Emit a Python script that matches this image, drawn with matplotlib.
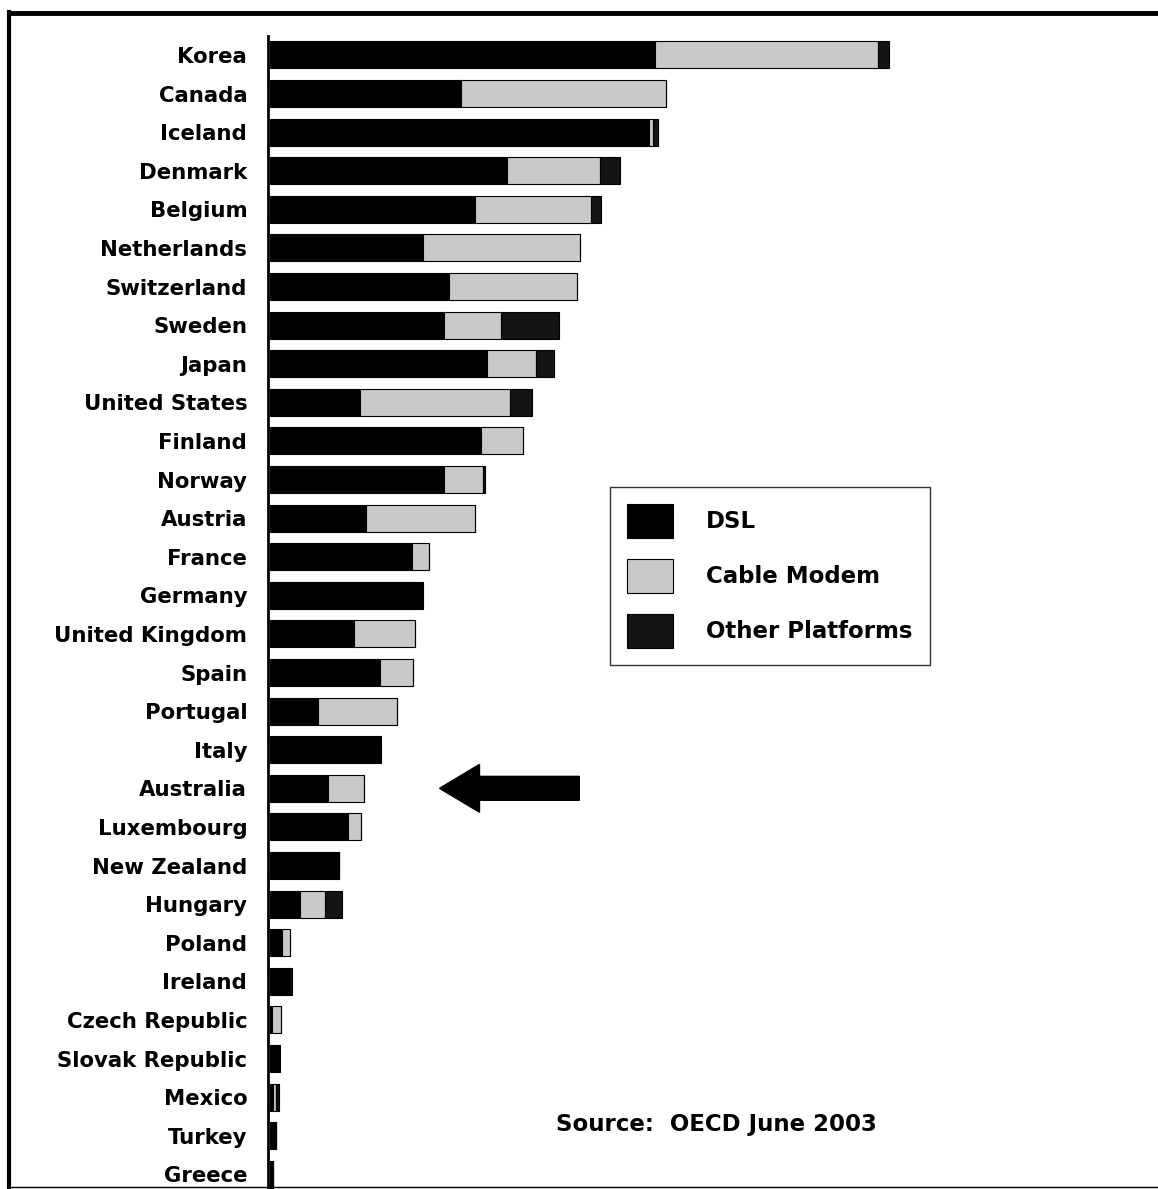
import matplotlib
matplotlib.use("Agg")
import matplotlib.pyplot as plt
from matplotlib.patches import Patch, FancyArrow
from matplotlib.lines import Line2D
import numpy as np

# Broadband subscribers per 100 inhabitants
countries = [
    "Korea", "Canada", "Iceland", "Denmark", "Belgium", "Netherlands",
    "Switzerland", "Sweden", "Japan", "United States", "Finland", "Norway",
    "Austria", "France", "Germany", "United Kingdom", "Spain", "Portugal",
    "Italy", "Australia", "Luxembourg", "New Zealand", "Hungary", "Poland",
    "Ireland", "Czech Republic", "Slovak Republic", "Mexico", "Turkey", "Greece",
]
dsl = [13.3, 6.6, 13.1, 8.2, 7.1, 5.3, 6.2, 6.0, 7.5, 3.1, 7.3, 6.0,
       3.3, 4.9, 5.25, 2.9, 3.8, 1.65, 3.8, 2.0, 2.7, 2.4, 1.05, 0.4,
       0.7, 0.07, 0.3, 0.12, 0.2, 0.1]
cable = [7.7, 7.1, 0.15, 3.2, 4.0, 5.4, 4.4, 2.0, 1.7, 5.2, 1.45, 1.35,
         3.8, 0.6, 0.0, 2.1, 1.15, 2.75, 0.0, 1.25, 0.45, 0.0, 0.85, 0.3,
         0.0, 0.3, 0.0, 0.1, 0.0, 0.0]
other = [0.4, 0.0, 0.15, 0.7, 0.35, 0.0, 0.0, 2.0, 0.6, 0.75, 0.0, 0.07,
         0.0, 0.0, 0.05, 0.0, 0.0, 0.0, 0.05, 0.0, 0.0, 0.0, 0.6, 0.0,
         0.05, 0.0, 0.05, 0.1, 0.0, 0.0]

series_labels = ["DSL", "Cable Modem", "Other Platforms"]
colors = ["#000000", "#c9c9c9", "#141414"]

W, H = 1158, 1189
fig = plt.figure(figsize=(W / 100, H / 100), dpi=100)

# outer frame (top, left, bottom)
fig.add_artist(Line2D([9 / W, 9 / W], [0, 1 - 12 / H], transform=fig.transFigure,
                      color="black", lw=3))
fig.add_artist(Line2D([9 / W, 1], [1 - 13 / H, 1 - 13 / H], transform=fig.transFigure,
                      color="black", lw=3.5))
fig.add_artist(Line2D([9 / W, 1], [2 / H, 2 / H], transform=fig.transFigure,
                      color="black", lw=1))

ax = fig.add_axes([268 / W, 0, 870 / W, 1 - 36 / H])

y = np.arange(len(countries))
dsl_a = np.array(dsl)
cable_a = np.array(cable)
other_a = np.array(other)
h = 0.7
ax.barh(y, dsl_a, height=h, color=colors[0], edgecolor="black", lw=0.8)
ax.barh(y, cable_a, left=dsl_a, height=h, color=colors[1], edgecolor="black", lw=0.8)
ax.barh(y, other_a, left=dsl_a + cable_a, height=h, color=colors[2],
        edgecolor="black", lw=0.8)

ax.set_xlim(-0.07, 30)
ax.set_ylim(29.38, -0.49)
ax.set_yticks(y)
ax.set_yticklabels(countries, fontsize=15.3, fontweight="bold", family="DejaVu Sans")
ax.tick_params(axis="y", length=0, pad=15)
ax.set_xticks([])
for side in ["top", "right", "bottom"]:
    ax.spines[side].set_visible(False)
ax.spines["left"].set_linewidth(2)

handles = [Patch(facecolor=c, edgecolor="black", lw=0.8) for c in colors]
leg = ax.legend(handles, series_labels, loc="upper left",
                bbox_to_anchor=(610 / W, 1 - 487 / H), bbox_transform=fig.transFigure,
                prop={"size": 16.5, "weight": "bold", "family": "DejaVu Sans"},
                handlelength=2.0, handleheight=1.9, handletextpad=1.44,
                labelspacing=0.92, borderpad=0.75, borderaxespad=0,
                fancybox=False, frameon=True)
leg.get_frame().set_edgecolor("black")
leg.get_frame().set_linewidth(1)

# arrow pointing at Australia
ai = countries.index("Australia")
ax.add_patch(FancyArrow(10.69, ai, -3.45, 0, width=0.62, head_width=1.24,
                        head_length=1.38, length_includes_head=False,
                        color="black"))

fig.text(556 / W, 1 - 1125 / H, "Source:  OECD June 2003", fontsize=16.5,
         fontweight="bold", family="DejaVu Sans", va="center", ha="left")

fig.savefig("out.png", dpi=100)
